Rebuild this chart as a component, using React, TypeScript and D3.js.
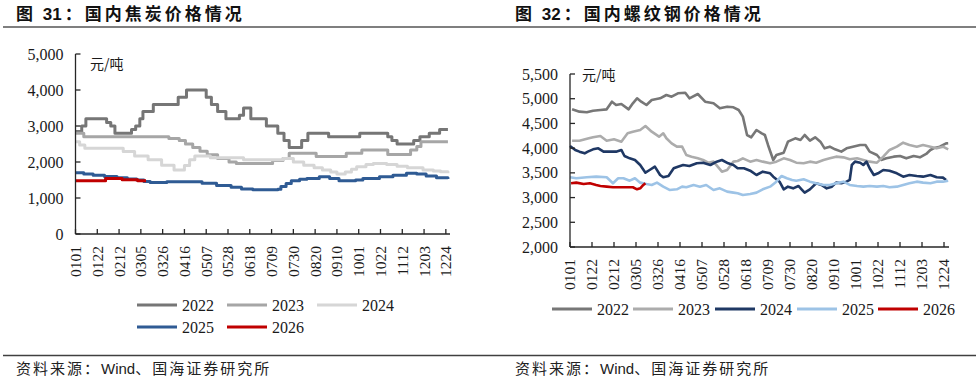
import React, { useEffect, useRef } from "react";
import * as d3 from "d3";

// [day index from 0101, price in 元/吨]
type Pt = [number, number];

const years = ["2022", "2023", "2024", "2025", "2026"];

const tickDays = d3.range(0, 358, 21);
const tickLabels = [
  "0101", "0122", "0212", "0305", "0326", "0416", "0507", "0528", "0618",
  "0709", "0730", "0820", "0910", "1001", "1022", "1112", "1203", "1224",
];

// 焦炭 (step series, change points)
const coke2022: Pt[] = [
  [0, 2850], [6, 3000], [10, 3200], [30, 3100], [34, 3000], [38, 2800], [54, 2900], [58, 3000],
  [62, 3200], [65, 3400], [75, 3600], [99, 3800], [107, 4000], [126, 3800], [131, 3600],
  [137, 3400], [145, 3200], [158, 3300], [162, 3500], [169, 3200], [184, 3000], [195, 2800],
  [201, 2600], [206, 2400], [218, 2600], [224, 2800], [244, 2700], [274, 2800], [301, 2700],
  [305, 2600], [310, 2500], [326, 2600], [332, 2700], [341, 2800], [351, 2900], [359, 2900],
];
const coke2023: Pt[] = [
  [0, 2800], [8, 2700], [90, 2650], [100, 2600], [106, 2500], [113, 2400], [120, 2300],
  [127, 2200], [137, 2100], [148, 2000], [155, 1960], [190, 2040], [200, 2100], [206, 2240],
  [232, 2150], [261, 2240], [276, 2330], [301, 2210], [323, 2330], [329, 2430], [333, 2560],
  [359, 2560],
];
const coke2024: Pt[] = [
  [0, 2560], [4, 2470], [9, 2380], [46, 2290], [57, 2170], [70, 2060], [83, 1910], [95, 1780],
  [105, 1900], [110, 2060], [115, 2170], [130, 2120], [162, 2060], [200, 2100], [210, 2000],
  [220, 1910], [230, 1840], [238, 1780], [246, 1720], [252, 1670], [260, 1720], [266, 1800],
  [271, 1870], [280, 1930], [287, 1960], [300, 1930], [310, 1880], [320, 1840], [335, 1780],
  [345, 1750], [352, 1730], [359, 1690],
];
const coke2025: Pt[] = [
  [0, 1700], [8, 1670], [17, 1630], [28, 1600], [40, 1565], [50, 1530], [59, 1500], [66, 1460],
  [72, 1430], [88, 1450], [115, 1450], [122, 1410], [136, 1350], [150, 1300], [160, 1250],
  [171, 1230], [195, 1240], [198, 1320], [203, 1400], [208, 1480], [216, 1520], [223, 1540],
  [235, 1590], [245, 1540], [254, 1480], [270, 1500], [277, 1540], [293, 1590], [306, 1630],
  [319, 1690], [329, 1670], [338, 1610], [348, 1560], [359, 1530],
];
const coke2026: Pt[] = [[0, 1480], [29, 1540], [45, 1510], [60, 1480], [68, 1480]];

// 螺纹钢 (daily-ish samples)
const rebar2022: Pt[] = [
  [2, 4785], [9, 4738], [16, 4725], [22, 4758], [29, 4772], [35, 4785], [40, 4940], [44, 4873],
  [49, 4893], [56, 4785], [60, 4907], [64, 5008], [68, 4940], [73, 4873], [78, 4974], [86, 5008],
  [92, 5075], [97, 5041], [103, 5109], [110, 5122], [114, 5008], [122, 5095], [129, 4940],
  [137, 4907], [143, 4805], [150, 4839], [156, 4826], [161, 4772], [165, 4637], [169, 4266],
  [173, 4219], [178, 4367], [183, 4300], [186, 4266], [189, 4064], [194, 3760], [197, 3861],
  [204, 3909], [208, 4131], [215, 4199], [220, 4165], [224, 4266], [229, 4151], [234, 4219],
  [239, 4131], [243, 3996], [248, 4030], [253, 3976], [259, 3929], [264, 3996], [270, 4030],
  [277, 4064], [282, 4064], [286, 3929], [293, 3861], [297, 3760], [302, 3794], [309, 3828],
  [315, 3841], [321, 3794], [328, 3841], [334, 3814], [340, 3882], [344, 3963], [347, 3996],
  [353, 4030], [359, 4097], [361, 4100],
];
const rebar2023: Pt[] = [
  [2, 4151], [9, 4151], [18, 4199], [22, 4219], [29, 4246], [35, 4151], [42, 4178], [49, 4131],
  [55, 4300], [60, 4333], [67, 4367], [72, 4448], [78, 4333], [85, 4232], [89, 4300], [92, 4199],
  [97, 4097], [102, 4030], [107, 4030], [111, 3861], [116, 3828], [122, 3794], [127, 3760],
  [132, 3706], [137, 3727], [141, 3625], [145, 3524], [150, 3558], [156, 3727], [160, 3740],
  [165, 3794], [172, 3727], [178, 3760], [184, 3727], [191, 3693], [197, 3727], [204, 3794],
  [210, 3760], [216, 3706], [223, 3693], [229, 3727], [235, 3706], [242, 3760], [248, 3794],
  [254, 3828], [261, 3814], [267, 3774], [274, 3794], [280, 3760], [286, 3727], [293, 3706],
  [299, 3828], [305, 3963], [312, 4030], [318, 4111], [324, 4064], [331, 4030], [337, 4064],
  [344, 4030], [350, 3996], [356, 4030], [361, 3976],
];
const rebar2024: Pt[] = [
  [0, 4043], [5, 3963], [9, 3929], [14, 3895], [17, 3929], [22, 3976], [27, 3996], [32, 3929],
  [38, 3929], [44, 3929], [49, 3963], [52, 3841], [57, 3794], [62, 3760], [67, 3659], [72, 3504],
  [76, 3558], [81, 3625], [86, 3457], [89, 3410], [94, 3437], [99, 3592], [103, 3625], [108, 3659],
  [114, 3639], [121, 3693], [127, 3706], [134, 3659], [140, 3727], [145, 3760], [151, 3693],
  [156, 3659], [160, 3592], [166, 3592], [172, 3544], [178, 3457], [184, 3524], [191, 3491],
  [194, 3423], [200, 3322], [204, 3167], [208, 3221], [213, 3187], [218, 3235], [221, 3167],
  [224, 3100], [229, 3167], [235, 3289], [240, 3255], [245, 3187], [250, 3221], [254, 3302],
  [259, 3289], [264, 3322], [267, 3356], [269, 3659], [272, 3727], [277, 3706], [280, 3659],
  [283, 3727], [286, 3592], [290, 3457], [294, 3491], [299, 3558], [305, 3544], [312, 3491],
  [318, 3423], [324, 3457], [331, 3437], [337, 3423], [344, 3457], [350, 3410], [356, 3403],
  [359, 3356],
];
const rebar2025: Pt[] = [
  [0, 3410], [6, 3390], [16, 3410], [25, 3423], [35, 3410], [41, 3289], [46, 3390], [51, 3390],
  [57, 3342], [62, 3390], [67, 3302], [73, 3275], [78, 3255], [83, 3302], [89, 3221], [95, 3154],
  [102, 3167], [107, 3221], [111, 3208], [118, 3255], [124, 3221], [130, 3255], [137, 3154],
  [143, 3187], [150, 3120], [156, 3100], [160, 3086], [165, 3052], [172, 3073], [178, 3100],
  [184, 3167], [191, 3221], [197, 3322], [202, 3437], [207, 3390], [212, 3356], [216, 3342],
  [223, 3369], [229, 3322], [235, 3289], [242, 3255], [248, 3255], [254, 3289], [261, 3322],
  [267, 3255], [274, 3235], [280, 3221], [286, 3235], [293, 3221], [299, 3235], [305, 3208],
  [312, 3221], [318, 3255], [324, 3289], [331, 3322], [337, 3302], [344, 3289], [350, 3322],
  [356, 3322], [361, 3342],
];
const rebar2026: Pt[] = [
  [1, 3289], [6, 3302], [13, 3275], [19, 3289], [25, 3255], [29, 3235], [35, 3221], [41, 3208],
  [48, 3208], [54, 3208], [60, 3208], [64, 3167], [67, 3187], [70, 3255], [72, 3289],
];

const cokeSeries = [coke2022, coke2023, coke2024, coke2025, coke2026];
const rebarSeries = [rebar2022, rebar2023, rebar2024, rebar2025, rebar2026];
const cokeColors = ["#767676", "#a6a6a6", "#d6d6d6", "#2f5b94", "#c00000"];
const rebarColors = ["#777777", "#acacac", "#1f3864", "#9dc3e6", "#c00000"];
const cokeTicks = d3.range(0, 5001, 1000);
const rebarTicks = d3.range(2000, 5501, 500);

const SERIF = "'Liberation Serif', 'Times New Roman', serif";
const CJK = "'Noto Sans CJK SC', sans-serif";
const SANS = "'Liberation Sans', Arial, sans-serif";

interface PanelOpts {
  series: Pt[][];
  colors: string[];
  xRange: [number, number];
  xEnd: number;
  yDomain: [number, number];
  yRange: [number, number];
  yTicks: number[];
  step: boolean;
  lineWidth: number;
  unitPos: [number, number];
  legend: { x: number; y: number }[];
}

function drawPanel(svg: d3.Selection<SVGSVGElement, unknown, null, undefined>, o: PanelOpts) {
  const g = svg.append("g");
  const x = d3.scaleLinear().domain([0, 361]).range(o.xRange);
  const y = d3.scaleLinear().domain(o.yDomain).range(o.yRange);
  const x0 = o.xRange[0];
  const yBottom = o.yRange[0];
  const yTop = o.yRange[1];

  // lines
  const line = d3
    .line<Pt>()
    .x((d) => x(d[0]))
    .y((d) => y(d[1]))
    .curve(o.step ? d3.curveStepAfter : d3.curveLinear);

  o.series.forEach((s, i) => {
    g.append("path")
      .attr("d", line(s) ?? "")
      .attr("fill", "none")
      .attr("stroke", o.colors[i])
      .attr("stroke-width", o.lineWidth)
      .attr("stroke-linejoin", "round");
  });

  // axes
  const axisColor = "#262626";
  g.append("line")
    .attr("x1", x0).attr("x2", x0)
    .attr("y1", yTop).attr("y2", yBottom)
    .attr("stroke", axisColor).attr("stroke-width", 1.3);
  g.append("line")
    .attr("x1", x0).attr("x2", o.xEnd)
    .attr("y1", yBottom).attr("y2", yBottom)
    .attr("stroke", axisColor).attr("stroke-width", 1.3);

  o.yTicks.forEach((t) => {
    g.append("line")
      .attr("x1", x0).attr("x2", x0 + 5)
      .attr("y1", y(t)).attr("y2", y(t))
      .attr("stroke", axisColor).attr("stroke-width", 1.3);
    g.append("text")
      .attr("x", x0 - 12)
      .attr("y", y(t))
      .attr("dy", "0.35em")
      .attr("text-anchor", "end")
      .style("font-family", SERIF)
      .style("font-size", "16px")
      .attr("fill", "#1a1a1a")
      .text(d3.format(",")(t));
  });

  tickDays.forEach((d, i) => {
    const xp = x(d);
    g.append("line")
      .attr("x1", xp).attr("x2", xp)
      .attr("y1", yBottom).attr("y2", yBottom - 5)
      .attr("stroke", axisColor).attr("stroke-width", 1.3);
    g.append("text")
      .attr("transform", `translate(${xp},${yBottom + 12}) rotate(-90)`)
      .attr("dy", "0.35em")
      .attr("text-anchor", "end")
      .style("font-family", SERIF)
      .style("font-size", "15.5px")
      .attr("fill", "#1a1a1a")
      .text(tickLabels[i]);
  });

  // unit label
  g.append("text")
    .attr("x", o.unitPos[0])
    .attr("y", o.unitPos[1])
    .attr("dy", "0.35em")
    .style("font-family", CJK)
    .style("font-size", "14px")
    .attr("fill", "#1a1a1a")
    .text("元/吨");

  // legend
  o.legend.forEach((p, i) => {
    g.append("line")
      .attr("x1", p.x).attr("x2", p.x + 40)
      .attr("y1", p.y).attr("y2", p.y)
      .attr("stroke", o.colors[i]).attr("stroke-width", 3);
    g.append("text")
      .attr("x", p.x + 45)
      .attr("y", p.y)
      .attr("dy", "0.35em")
      .style("font-family", SERIF)
      .style("font-size", "16px")
      .attr("fill", "#1a1a1a")
      .text(years[i]);
  });
}

function drawTitle(svg: d3.Selection<SVGSVGElement, unknown, null, undefined>, xPos: number, num: string, rest: string) {
  const t = svg
    .append("text")
    .attr("x", xPos)
    .attr("y", 20)
    .style("font-family", CJK)
    .style("font-size", "17px")
    .style("font-weight", "bold")
    .style("letter-spacing", "3px")
    .attr("fill", "#111");
  t.append("tspan").text("图 ");
  t.append("tspan").style("font-family", SANS).style("letter-spacing", "0px").text(num);
  t.append("tspan").attr("dx", 3).text("：" + rest);
}

function drawSource(svg: d3.Selection<SVGSVGElement, unknown, null, undefined>, xPos: number) {
  const t = svg
    .append("text")
    .attr("x", xPos)
    .attr("y", 374)
    .style("font-family", CJK)
    .style("font-size", "15px")
    .style("letter-spacing", "2px")
    .attr("fill", "#222");
  t.append("tspan").text("资料来源：");
  t.append("tspan").style("font-family", SANS).style("letter-spacing", "0px").text("Wind");
  t.append("tspan").text("、国海证券研究所");
}

export default function App() {
  const ref = useRef<SVGSVGElement | null>(null);

  useEffect(() => {
    const svg = d3.select(ref.current as SVGSVGElement);
    svg.selectAll("*").remove();

    // title and footer rules
    svg.append("line")
      .attr("x1", 3).attr("x2", 976).attr("y1", 27).attr("y2", 27)
      .attr("stroke", "#7f7f7f").attr("stroke-width", 2);
    svg.append("line")
      .attr("x1", 3).attr("x2", 976).attr("y1", 355.5).attr("y2", 355.5)
      .attr("stroke", "#404040").attr("stroke-width", 1.5);

    drawTitle(svg, 16, "31", "国内焦炭价格情况");
    drawTitle(svg, 515, "32", "国内螺纹钢价格情况");
    drawSource(svg, 16);
    drawSource(svg, 515);

    drawPanel(svg, {
      series: cokeSeries,
      colors: cokeColors,
      xRange: [75.5, 450],
      xEnd: 450,
      yDomain: [0, 5000],
      yRange: [234, 54],
      yTicks: cokeTicks,
      step: true,
      lineWidth: 3,
      unitPos: [90, 64],
      legend: [
        { x: 137, y: 305 }, { x: 227, y: 305 }, { x: 317, y: 305 },
        { x: 137, y: 327 }, { x: 227, y: 327 },
      ],
    });

    drawPanel(svg, {
      series: rebarSeries,
      colors: rebarColors,
      xRange: [570, 948.2],
      xEnd: 949,
      yDomain: [2000, 5500],
      yRange: [247, 74],
      yTicks: rebarTicks,
      step: false,
      lineWidth: 2.6,
      unitPos: [582, 75],
      legend: [
        { x: 552, y: 309 }, { x: 633, y: 309 }, { x: 715, y: 309 },
        { x: 797, y: 309 }, { x: 878, y: 309 },
      ],
    });
  }, []);

  return (
    <svg
      ref={ref}
      width={976}
      height={390}
      style={{ position: "absolute", left: 0, top: 0, background: "#fff" }}
    />
  );
}
